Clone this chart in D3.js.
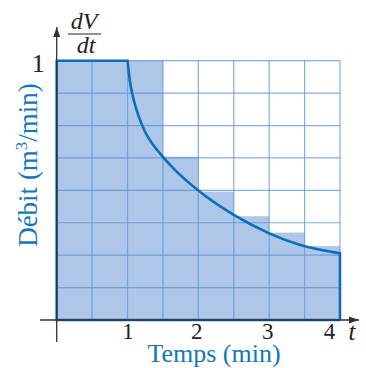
<!DOCTYPE html>
<html>
<head>
<meta charset="utf-8">
<script src="https://cdn.jsdelivr.net/npm/d3@7"></script>
<style>
  body { margin: 0; background: #fff; }
  svg { display: block; }
  text { font-family: "Liberation Serif", "DejaVu Serif", serif; }
</style>
</head>
<body>
<div id="viz-container"></div>
<script>
// Rectangles (left sums), width 0.5 min
let barStarts = [0, 0.5, 1, 1.5, 2, 2.5, 3, 3.5];
let barValues = [1, 1, 1, 0.63, 0.495, 0.40, 0.337, 0.285];
let barWidth = 0.5;

// Flow curve
let curveT = [1, 1.035, 1.082, 1.152, 1.247, 1.364, 1.49, 1.694, 2.0, 2.5, 3.0, 3.44, 4.0];
let curveV = [1, 0.919, 0.855, 0.79, 0.726, 0.675, 0.632, 0.572, 0.499, 0.405, 0.334, 0.289, 0.257];

let xTicks = [1, 2, 3, 4];
let yTicks = [1];

let W = 366, H = 368;

let svg = d3.select('#viz-container').append('svg')
    .attr('width', W).attr('height', H);

let x = d3.scaleLinear().domain([0, 4]).range([56.7, 340]);
let y = d3.scaleLinear().domain([0, 1]).range([320, 60.7]);

// bars
svg.append('g').selectAll('rect')
    .data(barStarts)
    .enter().append('rect')
    .attr('x', d => x(d))
    .attr('width', x(barWidth) - x(0))
    .attr('y', (d, i) => y(barValues[i]))
    .attr('height', (d, i) => y(0) - y(barValues[i]))
    .attr('fill', '#aec6e8');

// grid
let grid = svg.append('g')
    .attr('stroke', '#5b93d3')
    .attr('stroke-opacity', 0.75)
    .attr('stroke-width', 1.2);
grid.selectAll('line.v')
    .data(d3.range(1, 9).map(i => i * 0.5))
    .enter().append('line')
    .attr('x1', d => x(d)).attr('x2', d => x(d))
    .attr('y1', y(0)).attr('y2', y(1));
grid.selectAll('line.h')
    .data(d3.range(1, 9).map(i => i / 8))
    .enter().append('line')
    .attr('x1', x(0)).attr('x2', x(4))
    .attr('y1', d => y(d)).attr('y2', d => y(d));

// flow outline
let linear = d3.line().x(d => x(d[0])).y(d => y(d[1]));
let smooth = d3.line().x(d => x(d[0])).y(d => y(d[1])).curve(d3.curveMonotoneX);
let curvePts = curveT.map((t, i) => [t, curveV[i]]);
let last = curvePts[curvePts.length - 1];
let outline = linear([[last[0], 0], [0, 0], [0, 1], [1, 1]])
    + smooth(curvePts).replace(/^M/, 'L')
    + 'L' + x(last[0]) + ',' + y(0);
svg.append('path')
    .attr('d', outline)
    .attr('fill', 'none')
    .attr('stroke', '#0a6eb8')
    .attr('stroke-width', 2.6)
    .attr('stroke-linejoin', 'miter');

// axes lines with arrows
svg.append('defs').append('marker')
    .attr('id', 'arrow')
    .attr('viewBox', '0 0 10 10')
    .attr('refX', 10).attr('refY', 5)
    .attr('markerWidth', 10).attr('markerHeight', 10)
    .attr('markerUnits', 'userSpaceOnUse')
    .attr('orient', 'auto')
    .append('path').attr('d', 'M0,1.5 L10,5 L0,8.5 Z').attr('fill', '#333');

svg.append('line')
    .attr('x1', 40).attr('x2', 359)
    .attr('y1', y(0)).attr('y2', y(0))
    .attr('stroke', '#333').attr('stroke-width', 1.3)
    .attr('marker-end', 'url(#arrow)');
svg.append('line')
    .attr('x1', x(0)).attr('x2', x(0))
    .attr('y1', 342).attr('y2', 27)
    .attr('stroke', '#333').attr('stroke-width', 1.3)
    .attr('marker-end', 'url(#arrow)');

// tick labels
let xAxis = d3.axisBottom(x).tickValues(xTicks).tickSize(0).tickPadding(0)
    .tickFormat(d3.format('d'));
let gx = svg.append('g').attr('transform', 'translate(0,' + y(0) + ')').call(xAxis);
gx.select('.domain').remove();
gx.selectAll('text')
    .attr('y', 19)
    .attr('dy', 0)
    .attr('dx', d => d === 4 ? -11 : (d === 1 ? 0 : -2))
    .attr('font-size', 23)
    .attr('font-family', '"Liberation Serif", serif')
    .attr('fill', '#222');

let yAxis = d3.axisLeft(y).tickValues(yTicks).tickSize(0).tickPadding(0)
    .tickFormat(d3.format('d'));
let gy = svg.append('g').attr('transform', 'translate(' + x(0) + ',0)').call(yAxis);
gy.select('.domain').remove();
gy.selectAll('text')
    .attr('x', -12)
    .attr('y', 11)
    .attr('dy', 0)
    .attr('font-size', 26)
    .attr('font-family', '"Liberation Serif", serif')
    .attr('fill', '#222');

// axis titles
svg.append('text')
    .attr('x', 214).attr('y', 362)
    .attr('text-anchor', 'middle')
    .attr('font-size', 26)
    .attr('fill', '#1276bf')
    .text('Temps (min)');

svg.append('text')
    .attr('transform', 'translate(37,165) rotate(-90)')
    .attr('text-anchor', 'middle')
    .attr('font-size', 27)
    .attr('fill', '#1276bf')
    .html('Débit (m<tspan dy="-10" font-size="17">3</tspan><tspan dy="10">/min)</tspan>');

svg.append('text')
    .attr('x', 352).attr('y', 340)
    .attr('text-anchor', 'middle')
    .attr('font-size', 25)
    .attr('font-style', 'italic')
    .attr('fill', '#222')
    .text('t');

// dV/dt label
svg.append('text')
    .attr('x', 84).attr('y', 29)
    .attr('text-anchor', 'middle')
    .attr('font-size', 24)
    .attr('font-style', 'italic')
    .attr('fill', '#222')
    .text('dV');
svg.append('line')
    .attr('x1', 68).attr('x2', 101)
    .attr('y1', 34).attr('y2', 34)
    .attr('stroke', '#222').attr('stroke-width', 1.2);
svg.append('text')
    .attr('x', 86).attr('y', 53)
    .attr('text-anchor', 'middle')
    .attr('font-size', 24)
    .attr('font-style', 'italic')
    .attr('fill', '#222')
    .text('dt');
</script>
</body>
</html>
